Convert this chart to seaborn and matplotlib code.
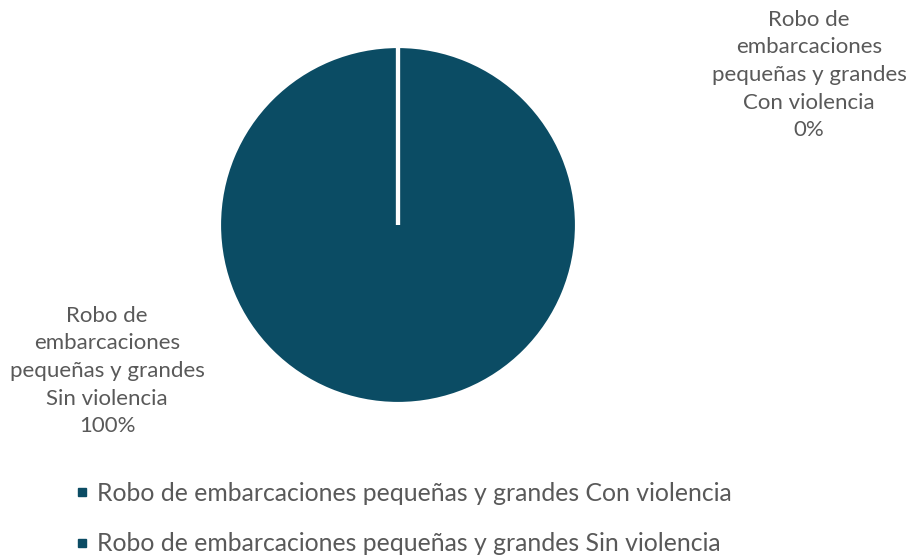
import matplotlib
matplotlib.use("Agg")
import matplotlib.pyplot as plt
from matplotlib.lines import Line2D
import numpy as np
import seaborn as sns

categories = ["Robo de embarcaciones pequeñas y grandes Con violencia",
              "Robo de embarcaciones pequeñas y grandes Sin violencia"]
values = [0, 100]
slice_labels = ["Robo de\nembarcaciones\npequeñas y grandes\nCon violencia\n0%",
                "Robo de\nembarcaciones\npequeñas y grandes\nSin violencia\n100%"]

sns.set_theme(style="white")
plt.rcParams['font.family'] = ['Lato', 'DejaVu Sans']

color = "#0B4C64"
text_color = "#595959"
W, H = 908, 556
fig = plt.figure(figsize=(W / 100, H / 100), dpi=100)
cx, cy, r = 398, 225, 179
ax = fig.add_axes([(cx - r) / W, (H - cy - r) / H, 2 * r / W, 2 * r / H])
wedges, _ = ax.pie(values, colors=[color, color], startangle=90, counterclock=False,
                   wedgeprops=dict(edgecolor="white", linewidth=3))
# draw the radial slice border that a full-circle wedge omits
for w in wedges:
    ang = np.deg2rad(w.theta2)
    c = w.center
    ax.plot([c[0], c[0] + w.r * np.cos(ang)], [c[1], c[1] + w.r * np.sin(ang)],
            color="white", lw=3, solid_capstyle="butt", zorder=5)
ax.set_xlim(-1, 1)
ax.set_ylim(-1, 1)
ax.set_aspect("equal")

fig.text(809 / W, 1 - 75 / H, slice_labels[0], ha="center", va="center",
         fontsize=16, color=text_color, linespacing=1.48)
fig.text(107 / W, 1 - 371 / H, slice_labels[1], ha="center", va="center",
         fontsize=16, color=text_color, linespacing=1.48)

handles = [Line2D([], [], marker="s", linestyle="none", color=color, markersize=6) for _ in categories]
fig.legend(handles, categories, loc="upper left", bbox_to_anchor=(67 / W, 1 - 482 / H),
           frameon=False, fontsize=17.8, labelcolor=text_color, handletextpad=0.0,
           handlelength=1.2, labelspacing=1.1, borderaxespad=0, borderpad=0)

fig.savefig("out.png", dpi=100, facecolor="white")
